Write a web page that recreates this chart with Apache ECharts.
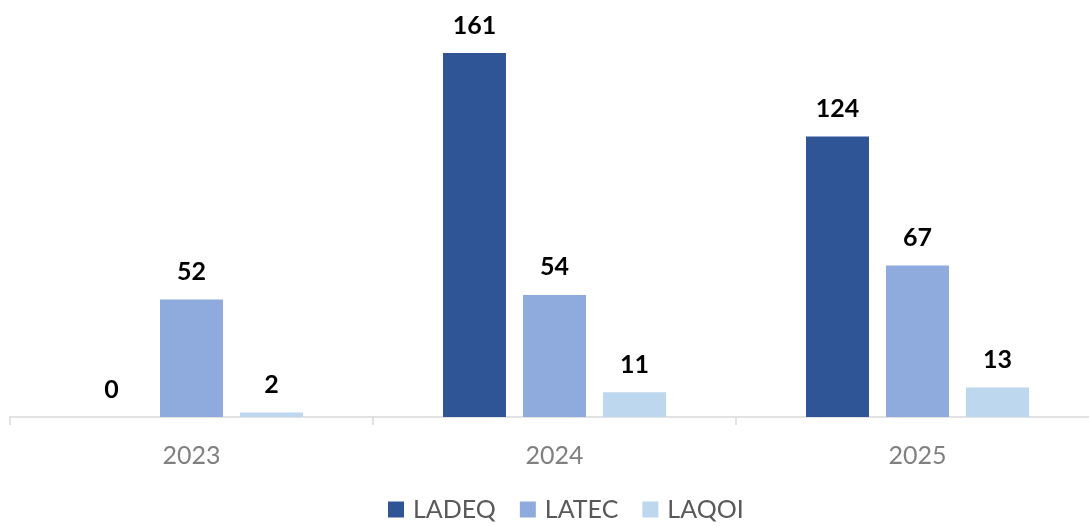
<!DOCTYPE html>
<html><head><meta charset="utf-8">
<script src="https://cdn.jsdelivr.net/npm/echarts@6/dist/echarts.min.js"></script>
<style>html,body{margin:0;padding:0;background:#fff}#c{width:1089px;height:527px}</style>
</head><body><div id="c"></div>
<script>
var categories = ['2023', '2024', '2025'];
var seriesNames = ['LADEQ', 'LATEC', 'LAQOI'];
var ladeq = [0, 161, 124];
var latec = [52, 54, 67];
var laqoi = [2, 11, 13];
var colors = ['#2F5597', '#8FAADC', '#BDD7EE'];

var chart = echarts.init(document.getElementById('c'));
var font = 'Lato, "Open Sans", sans-serif';
function mk(name, data, color) {
  return {
    name: name, type: 'bar', data: data, barWidth: 63, barGap: '27%',
    itemStyle: { color: color },
    label: { show: true, position: 'top', distance: 15, color: '#000', fontWeight: 'bold', fontSize: 25, fontFamily: font }
  };
}
chart.setOption({
  animation: false,
  color: colors,
  grid: { left: 10, top: 10, right: -10, height: 407, outerBoundsMode: 'none', containLabel: false },
  legend: {
    bottom: 0, left: 383, itemWidth: 16, itemHeight: 16, itemGap: 24, icon: 'rect',
    textStyle: { color: '#595959', fontSize: 25, fontFamily: font, padding: [0, 0, 0, 4] },
    data: seriesNames
  },
  xAxis: {
    type: 'category', data: categories,
    axisLine: { lineStyle: { color: '#D9D9D9', width: 1.5 } },
    axisTick: { show: true, length: 8, lineStyle: { color: '#D9D9D9', width: 1.5 } },
    axisLabel: { color: '#808080', fontSize: 25, fontFamily: font, margin: 26 }
  },
  yAxis: { type: 'value', min: 0, max: 180, show: false, splitLine: { show: false } },
  series: [mk(seriesNames[0], ladeq, colors[0]), mk(seriesNames[1], latec, colors[1]), mk(seriesNames[2], laqoi, colors[2])]
});
</script></body></html>
